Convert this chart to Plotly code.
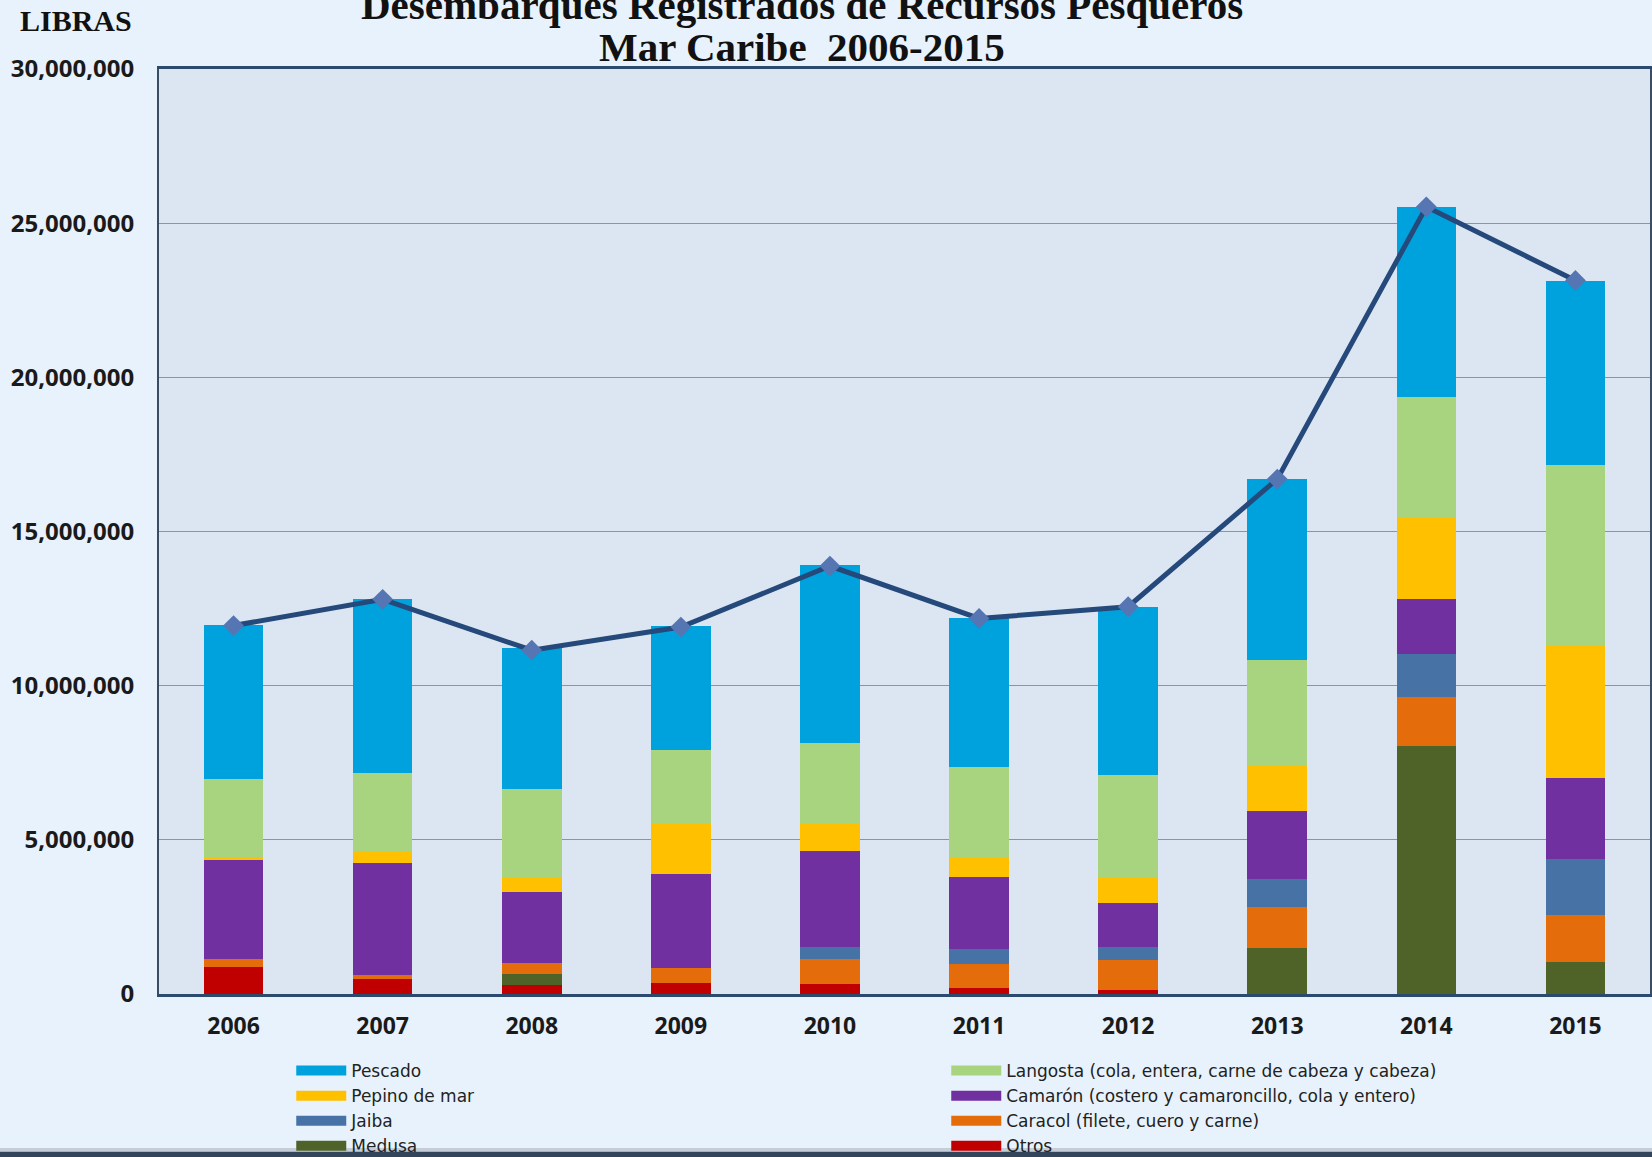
import plotly.graph_objects as go

years = ["2006", "2007", "2008", "2009", "2010", "2011", "2012", "2013", "2014", "2015"]

otros    = [890000, 480000, 290000, 370000, 340000, 180000, 120000, 0, 0, 0]
medusa   = [0, 0, 350000, 0, 0, 0, 0, 1490000, 8050000, 1030000]
caracol  = [260000, 140000, 350000, 460000, 780000, 780000, 970000, 1320000, 1580000, 1530000]
jaiba    = [0, 0, 0, 0, 400000, 500000, 420000, 930000, 1390000, 1810000]
camaron  = [3220000, 3630000, 2330000, 3060000, 3130000, 2320000, 1440000, 2190000, 1800000, 2630000]
pepino   = [30000, 370000, 430000, 1610000, 910000, 670000, 810000, 1490000, 2610000, 4290000]
langosta = [2570000, 2550000, 2910000, 2410000, 2590000, 2920000, 3330000, 3420000, 3930000, 5880000]
pescado  = [4990000, 5640000, 4550000, 4020000, 5750000, 4810000, 5450000, 5850000, 6170000, 5970000]
total    = [11950000, 12800000, 11150000, 11900000, 13880000, 12180000, 12560000, 16700000, 25530000, 23140000]

y_ticks = [0, 5000000, 10000000, 15000000, 20000000, 25000000, 30000000]

series = [
    ("Otros", otros, "#c00000"),
    ("Medusa", medusa, "#4f6228"),
    ("Caracol (filete, cuero y carne)", caracol, "#e46c0a"),
    ("Jaiba", jaiba, "#4672a6"),
    ("Camarón (costero y camaroncillo, cola y entero)", camaron, "#7030a0"),
    ("Pepino de mar", pepino, "#ffc000"),
    ("Langosta (cola, entera, carne de cabeza y cabeza)", langosta, "#a9d47f"),
    ("Pescado", pescado, "#00a2dd"),
]
legend_order = [
    "Pescado",
    "Langosta (cola, entera, carne de cabeza y cabeza)",
    "Pepino de mar",
    "Camarón (costero y camaroncillo, cola y entero)",
    "Jaiba",
    "Caracol (filete, cuero y carne)",
    "Medusa",
    "Otros",
]
colors = {name: col for name, _, col in series}

fig = go.Figure()
for name, vals, col in series:
    fig.add_trace(go.Bar(x=years, y=vals, name=name, marker=dict(color=col, line=dict(width=0)),
                         width=0.4, showlegend=False))

fig.add_trace(go.Scatter(x=years, y=total, mode="lines+markers", showlegend=False,
                         line=dict(color="#24497a", width=5),
                         marker=dict(symbol="diamond", size=16, color="#5575b3",
                                     line=dict(width=0))))

for name in legend_order:
    fig.add_trace(go.Scatter(x=[None], y=[None], mode="lines", name=name,
                             line=dict(color=colors[name], width=13)))

fig.update_layout(
    width=1652, height=1157,
    barmode="stack",
    paper_bgcolor="#e8f2fc",
    plot_bgcolor="#dce6f2",
    margin=dict(l=159, r=2, t=69, b=163, autoexpand=False),
    showlegend=True,
    legend=dict(orientation="h", x=0.0887, xanchor="left",
                yref="container", y=0.0899, yanchor="top",
                entrywidth=590, entrywidthmode="pixels", itemwidth=50,
                font=dict(family="DejaVu Sans", size=17, color="#222222"),
                bgcolor="rgba(0,0,0,0)", traceorder="normal", tracegroupgap=0),
    xaxis=dict(type="category", range=[-0.5, 9.5], showgrid=False,
               showline=True, linecolor="#2c4a6e", linewidth=3, mirror=True,
               ticks="", ticklabelstandoff=9,
               tickfont=dict(family="Open Sans", size=23, color="#1a1a1a", weight="bold")),
    yaxis=dict(range=[0, 30000000], tickvals=y_ticks, tickformat=",d",
               showgrid=True, gridcolor="#8d949e", gridwidth=1,
               showline=True, linecolor="#3a4d63", linewidth=2, mirror=True,
               ticks="", ticklabelstandoff=18, zeroline=False,
               tickfont=dict(family="Open Sans", size=24, color="#1a1a1a", weight="bold")),
    annotations=[
        dict(text="Desembarques Registrados de Recursos Pesqueros", xref="paper", yref="paper",
             x=0.431, y=1, xanchor="center", yanchor="middle", yshift=64, showarrow=False,
             font=dict(family="Liberation Serif", size=41, color="#111111", weight="bold")),
        dict(text="Mar Caribe  2006-2015", xref="paper", yref="paper",
             x=0.431, y=1, xanchor="center", yanchor="middle", yshift=22, showarrow=False,
             font=dict(family="Liberation Serif", size=41, color="#111111", weight="bold")),
        dict(text="LIBRAS", xref="paper", yref="paper",
             x=-0.0557, y=1, xanchor="center", yanchor="middle", yshift=49, showarrow=False,
             font=dict(family="Liberation Serif", size=30, color="#111111", weight="bold")),
    ],
    shapes=[
        dict(type="rect", xref="paper", yref="paper", x0=-0.2, x1=1.1, y0=-0.1665, y1=-0.1705,
             fillcolor="#c5cdd8", line=dict(width=0), layer="below"),
        dict(type="rect", xref="paper", yref="paper", x0=-0.2, x1=1.1, y0=-0.1705, y1=-0.19,
             fillcolor="#33455a", line=dict(width=0), layer="below"),
    ],
)

fig.write_html("out.html", config={"displayModeBar": False},
               post_script="document.body.style.margin='0';document.body.style.overflow='hidden';")
